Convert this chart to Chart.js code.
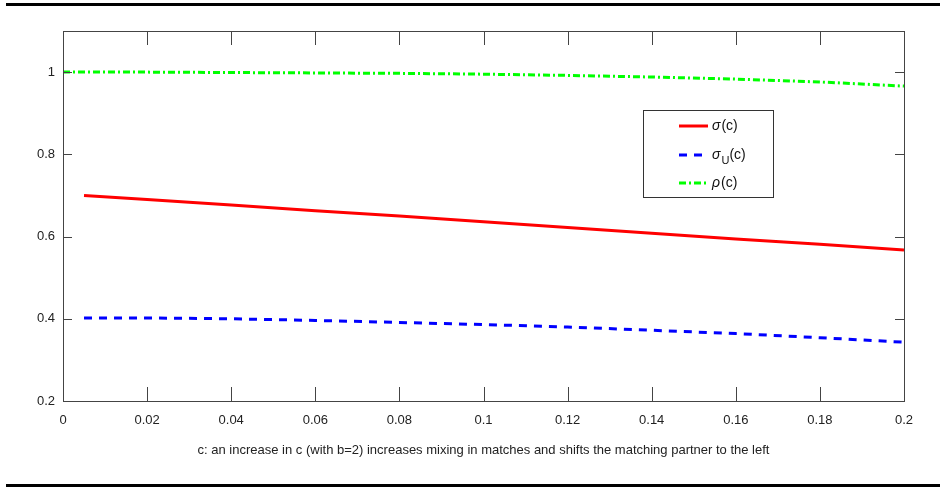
<!DOCTYPE html>
<html>
<head>
<meta charset="utf-8">
<script src="https://cdn.jsdelivr.net/npm/chart.js@4"></script>
<style>
  html, body { margin: 0; padding: 0; background: #fff; }
  #wrap { width: 940px; height: 487px; }
</style>
</head>
<body>
<div id="wrap"><canvas id="chart" width="940" height="487"></canvas></div>
<script>
// values
const cSigma = [0.005, 0.02, 0.04, 0.06, 0.08, 0.1, 0.12, 0.14, 0.16, 0.18, 0.2];
const sigma = [0.700, 0.690, 0.677, 0.663, 0.650, 0.636, 0.622, 0.608, 0.594, 0.581, 0.567];
const sigmaU = [0.402, 0.402, 0.400, 0.396, 0.391, 0.386, 0.380, 0.372, 0.364, 0.354, 0.343];
const cRho = [0, 0.02, 0.04, 0.06, 0.08, 0.1, 0.12, 0.14, 0.16, 0.18, 0.2];
const rho = [1.000, 1.000, 0.999, 0.998, 0.997, 0.995, 0.992, 0.988, 0.983, 0.976, 0.966];

const xTicks = [0, 0.02, 0.04, 0.06, 0.08, 0.1, 0.12, 0.14, 0.16, 0.18, 0.2];
const yTicks = [0.2, 0.4, 0.6, 0.8, 1];
const xTitle = "c: an increase in c (with b=2) increases mixing in matches and shifts the matching partner to the left";

// legend labels, split so the greek letter can be italic and U a subscript
const legendLabels = [
  [{ t: "σ", it: true }, { t: "(c)" }],
  [{ t: "σ", it: true }, { t: "U", sub: true }, { t: "(c)" }],
  [{ t: "ρ", it: true }, { t: "(c)" }]
];

const FONT = '"Liberation Sans", Arial, sans-serif';
const pts = (xs, ys) => xs.map((x, i) => ({ x: x, y: ys[i] }));
const fmt = v => String(Number(v.toFixed(2)));

// the rules above and below, the axes box, inward ticks and the legend
const figurePlugin = {
  id: "figure",
  afterDraw(chart) {
    const ctx = chart.ctx;
    const a = chart.chartArea;
    const xs = chart.scales.x, ys = chart.scales.y;
    ctx.save();
    ctx.fillStyle = "#000";
    ctx.fillRect(6, 3, 934, 3);
    ctx.fillRect(6, 484, 934, 3);

    ctx.strokeStyle = "#444";
    ctx.lineWidth = 1;
    ctx.strokeRect(Math.round(a.left) + 0.5, Math.round(a.top) + 0.5,
      Math.round(a.right - a.left), Math.round(a.bottom - a.top));
    ctx.beginPath();
    xTicks.forEach(v => {
      const px = Math.round(xs.getPixelForValue(v)) + 0.5;
      ctx.moveTo(px, a.bottom); ctx.lineTo(px, a.bottom - 14);
      ctx.moveTo(px, a.top); ctx.lineTo(px, a.top + 14);
    });
    yTicks.forEach(v => {
      const py = Math.round(ys.getPixelForValue(v)) + 0.5;
      ctx.moveTo(a.left, py); ctx.lineTo(a.left + 9, py);
      ctx.moveTo(a.right, py); ctx.lineTo(a.right - 9, py);
    });
    ctx.stroke();

    // legend box
    const bx = 643.5, by = 110.5, bw = 130, bh = 87;
    ctx.fillStyle = "#fff";
    ctx.fillRect(bx, by, bw, bh);
    ctx.strokeStyle = "#333";
    ctx.strokeRect(bx, by, bw, bh);
    const rows = [126, 155, 183];
    chart.data.datasets.forEach((ds, i) => {
      const y = rows[i];
      ctx.beginPath();
      ctx.strokeStyle = ds.borderColor;
      ctx.lineWidth = ds.borderWidth;
      ctx.setLineDash(ds.borderDash || []);
      ctx.moveTo(679, y); ctx.lineTo(708, y);
      ctx.stroke();
      ctx.setLineDash([]);
      let tx = 712;
      ctx.fillStyle = "#111";
      ctx.textBaseline = "middle";
      ctx.textAlign = "left";
      legendLabels[i].forEach(p => {
        ctx.font = (p.it ? "italic " : "") + (p.sub ? "11px " : "14px ") + FONT;
        ctx.fillText(p.t, tx, p.sub ? y + 6 : y);
        tx += ctx.measureText(p.t).width + (p.it ? 1 : 0);
      });
    });
    ctx.restore();
  }
};

new Chart(document.getElementById("chart").getContext("2d"), {
  type: "line",
  data: {
    datasets: [
      { label: "sigma(c)", data: pts(cSigma, sigma), borderColor: "#ff0000", borderWidth: 3, pointRadius: 0, tension: 0 },
      { label: "sigmaU(c)", data: pts(cSigma, sigmaU), borderColor: "#0000ff", borderWidth: 3, borderDash: [8, 7], pointRadius: 0, tension: 0 },
      { label: "rho(c)", data: pts(cRho, rho), borderColor: "#00ff00", borderWidth: 3, borderDash: [7, 3, 2, 3], pointRadius: 0, tension: 0 }
    ]
  },
  options: {
    responsive: false,
    animation: false,
    layout: { padding: { top: 31, right: 36, left: 0, bottom: 0 } },
    plugins: { legend: { display: false }, tooltip: { enabled: false } },
    scales: {
      x: {
        type: "linear", min: 0, max: 0.2,
        grid: { display: false, drawTicks: false },
        border: { display: false },
        afterBuildTicks: s => { s.ticks = xTicks.map(v => ({ value: v })); },
        afterFit: s => { s.height = 86; },
        ticks: { padding: 12, maxRotation: 0, autoSkip: false, color: "#222",
          font: { family: FONT, size: 13 }, callback: v => fmt(v) },
        title: { display: true, text: xTitle, color: "#222",
          font: { family: FONT, size: 13 }, padding: { top: 0, bottom: 29 } }
      },
      y: {
        type: "linear", min: 0.2, max: 1.1,
        grid: { display: false, drawTicks: false },
        border: { display: false },
        afterBuildTicks: s => { s.ticks = yTicks.map(v => ({ value: v })); },
        afterFit: s => { s.width = 63; },
        ticks: { padding: 8, color: "#222", font: { family: FONT, size: 13 }, callback: v => fmt(v) }
      }
    }
  },
  plugins: [figurePlugin]
});
</script>
</body>
</html>
